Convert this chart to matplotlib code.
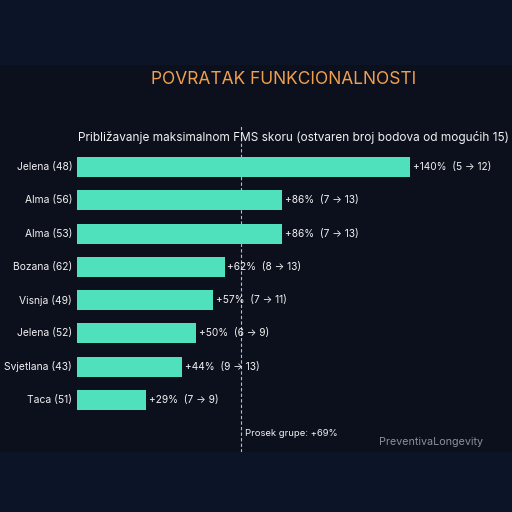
import matplotlib
matplotlib.use("Agg")
import matplotlib.pyplot as plt
from matplotlib.patches import Rectangle

names = ["Jelena (48)", "Alma (56)", "Alma (53)", "Bozana (62)",
         "Visnja (49)", "Jelena (52)", "Svjetlana (43)", "Taca (51)"]
gains = [140, 86, 86, 62, 57, 50, 44, 29]
before = [5, 7, 7, 8, 7, 6, 9, 7]
after = [12, 13, 13, 13, 11, 9, 13, 9]
avg_gain = 69

bg = "#0c0f1c"
band = "#0c1428"
bar_col = "#4fe0bc"
txt = "#f2f2f2"
font = ["Inter", "DejaVu Sans"]

fig = plt.figure(figsize=(5.12, 5.12), dpi=100)
fig.patch.set_facecolor(bg)
fig.patches.append(Rectangle((0, 1 - 65/512), 1, 65/512, transform=fig.transFigure,
                             facecolor=band, edgecolor="none", zorder=-1))
fig.patches.append(Rectangle((0, 0), 1, 60/512, transform=fig.transFigure,
                             facecolor=band, edgecolor="none", zorder=-1))

ax = fig.add_axes([77/512, 60/512, 423/512, 327/512])
ax.set_facecolor(bg)
ypos = list(range(len(names)))
ax.barh(ypos, gains, height=0.6, color=bar_col, zorder=2)
ax.set_xlim(0, 423/2.38)
ax.set_ylim(8.56, -1.26)
ax.axvline(avg_gain, color="#b8bcc4", lw=0.8, ls=(0, (3, 2)), zorder=1)

for y, n, g, b, a in zip(ypos, names, gains, before, after):
    ax.text(-2, y, n, ha="right", va="center", color=txt, fontsize=7.4,
            family=font)
    ax.text(g + 1.2, y, f"+{g}%  ({b} \u2192 {a})", ha="left", va="center",
            color=txt, fontsize=7.3, family=font)

ax.text(avg_gain + 1.5, 8.0, f"Prosek grupe: +{avg_gain}%", ha="left",
        va="center", color=txt, fontsize=6.8, family=font)

ax.set_xticks([])
ax.set_yticks([])
for s in ax.spines.values():
    s.set_visible(False)

fig.text(284/512, 1 - 79/512, "POVRATAK FUNKCIONALNOSTI", ha="center",
         va="center", color="#f0a050", fontsize=12.5, family=font)
fig.text(78/512, 1 - 137/512,
         "Približavanje maksimalnom FMS skoru (ostvaren broj bodova od mogućih 15)",
         ha="left", va="center", color=txt, fontsize=8.5, family=font)
fig.text(483/512, 1 - 442/512, "PreventivaLongevity", ha="right", va="center",
         color="#8c909a", fontsize=7.75, family=font)

fig.savefig("out.png", dpi=100, facecolor=fig.get_facecolor())
